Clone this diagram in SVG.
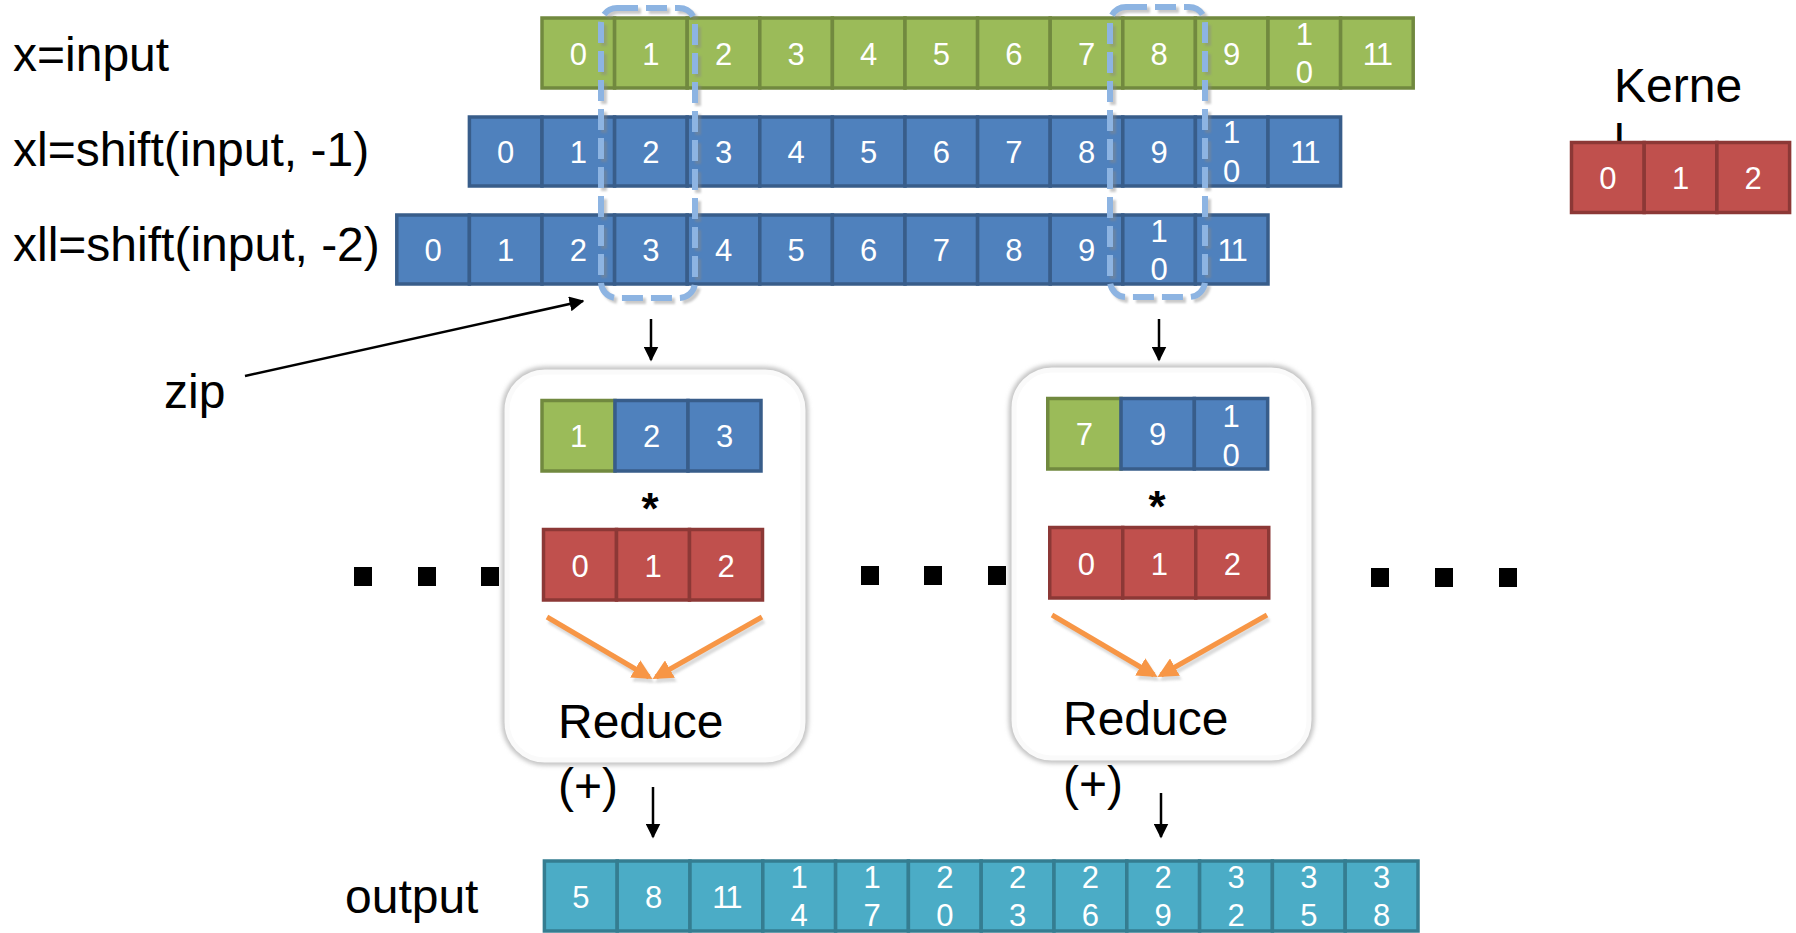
<svg xmlns="http://www.w3.org/2000/svg" width="1796" height="933" viewBox="0 0 1796 933">
<defs>
<style>
.lbl{font-family:"Liberation Sans",Arial,sans-serif;font-size:48px;fill:#000}
.d{font-family:"Liberation Sans",Arial,sans-serif;font-size:31px;fill:#fff;text-anchor:middle}
.g{fill:#9BBB59;stroke:#71893F;stroke-width:3.5}
.b{fill:#4F81BD;stroke:#385D8A;stroke-width:3.5}
.r{fill:#C0504D;stroke:#8C3836;stroke-width:3.5}
.c{fill:#4BACC6;stroke:#357D91;stroke-width:3.5}
.dash{fill:none;stroke:#8DB4E2;stroke-width:6;stroke-dasharray:21 8}
.dashsh{fill:none;stroke:#888;stroke-width:6;stroke-dasharray:21 8;opacity:.45}
.blk{stroke:#000;stroke-width:2.5;fill:none}
.org{stroke:#F79646;stroke-width:5;fill:none}
.orgsh{stroke:#999;stroke-width:5;fill:none;opacity:.35}
.dot{fill:#000}
.ast{font-family:"Liberation Sans",Arial,sans-serif;font-size:44px;font-weight:bold;text-anchor:middle;fill:#000}
</style>
<filter id="blur" x="-10%" y="-10%" width="120%" height="120%"><feGaussianBlur stdDeviation="2"/></filter>
<filter id="blur1" x="-10%" y="-10%" width="120%" height="120%"><feGaussianBlur stdDeviation="1.2"/></filter>
<marker id="ab" viewBox="0 0 10 10" refX="9" refY="5" markerWidth="6" markerHeight="6" orient="auto" markerUnits="strokeWidth"><path d="M0,0 L10,5 L0,10 z" fill="#000"/></marker>
<marker id="ao" viewBox="0 0 10 10" refX="8" refY="5" markerWidth="4" markerHeight="4" orient="auto" markerUnits="strokeWidth"><path d="M0,0 L10,5 L0,10 z" fill="#F79646"/></marker>
<marker id="as" viewBox="0 0 10 10" refX="8" refY="5" markerWidth="4" markerHeight="4" orient="auto" markerUnits="strokeWidth"><path d="M0,0 L10,5 L0,10 z" fill="#999"/></marker>
</defs>
<rect width="1796" height="933" fill="#fff"/>

<g id="labels">
<text class="lbl" x="13" y="71">x=input</text>
<text class="lbl" x="13" y="166">xl=shift(input, -1)</text>
<text class="lbl" x="13" y="261">xll=shift(input, -2)</text>
<text class="lbl" x="164" y="408">zip</text>
<text class="lbl" x="345" y="913">output</text>
</g>

<g id="row-x">
<rect class="g" x="542" y="18" width="72.6" height="70"/>
<rect class="g" x="614.6" y="18" width="72.6" height="70"/>
<rect class="g" x="687.2" y="18" width="72.6" height="70"/>
<rect class="g" x="759.8" y="18" width="72.6" height="70"/>
<rect class="g" x="832.4" y="18" width="72.6" height="70"/>
<rect class="g" x="905" y="18" width="72.6" height="70"/>
<rect class="g" x="977.6" y="18" width="72.6" height="70"/>
<rect class="g" x="1050.2" y="18" width="72.6" height="70"/>
<rect class="g" x="1122.8" y="18" width="72.6" height="70"/>
<rect class="g" x="1195.4" y="18" width="72.6" height="70"/>
<rect class="g" x="1268" y="18" width="72.6" height="70"/>
<rect class="g" x="1340.6" y="18" width="72.6" height="70"/>
<text class="d" x="578.3" y="65">0</text>
<text class="d" x="650.9" y="65">1</text>
<text class="d" x="723.5" y="65">2</text>
<text class="d" x="796.1" y="65">3</text>
<text class="d" x="868.7" y="65">4</text>
<text class="d" x="941.3" y="65">5</text>
<text class="d" x="1013.9" y="65">6</text>
<text class="d" x="1086.5" y="65">7</text>
<text class="d" x="1159.1" y="65">8</text>
<text class="d" x="1231.7" y="65">9</text>
<text class="d" x="1304.3" y="45">1</text>
<text class="d" x="1304.3" y="83">0</text>
<text class="d" x="1376.9" y="65" letter-spacing="-2">11</text>
</g>

<g id="row-xl">
<rect class="b" x="469.4" y="117" width="72.6" height="69"/>
<rect class="b" x="542" y="117" width="72.6" height="69"/>
<rect class="b" x="614.6" y="117" width="72.6" height="69"/>
<rect class="b" x="687.2" y="117" width="72.6" height="69"/>
<rect class="b" x="759.8" y="117" width="72.6" height="69"/>
<rect class="b" x="832.4" y="117" width="72.6" height="69"/>
<rect class="b" x="905" y="117" width="72.6" height="69"/>
<rect class="b" x="977.6" y="117" width="72.6" height="69"/>
<rect class="b" x="1050.2" y="117" width="72.6" height="69"/>
<rect class="b" x="1122.8" y="117" width="72.6" height="69"/>
<rect class="b" x="1195.4" y="117" width="72.6" height="69"/>
<rect class="b" x="1268" y="117" width="72.6" height="69"/>
<text class="d" x="505.7" y="163">0</text>
<text class="d" x="578.3" y="163">1</text>
<text class="d" x="650.9" y="163">2</text>
<text class="d" x="723.5" y="163">3</text>
<text class="d" x="796.1" y="163">4</text>
<text class="d" x="868.7" y="163">5</text>
<text class="d" x="941.3" y="163">6</text>
<text class="d" x="1013.9" y="163">7</text>
<text class="d" x="1086.5" y="163">8</text>
<text class="d" x="1159.1" y="163">9</text>
<text class="d" x="1231.7" y="143">1</text>
<text class="d" x="1231.7" y="182">0</text>
<text class="d" x="1304.3" y="163" letter-spacing="-2">11</text>
</g>

<g id="row-xll">
<rect class="b" x="396.8" y="215" width="72.6" height="69"/>
<rect class="b" x="469.4" y="215" width="72.6" height="69"/>
<rect class="b" x="542" y="215" width="72.6" height="69"/>
<rect class="b" x="614.6" y="215" width="72.6" height="69"/>
<rect class="b" x="687.2" y="215" width="72.6" height="69"/>
<rect class="b" x="759.8" y="215" width="72.6" height="69"/>
<rect class="b" x="832.4" y="215" width="72.6" height="69"/>
<rect class="b" x="905" y="215" width="72.6" height="69"/>
<rect class="b" x="977.6" y="215" width="72.6" height="69"/>
<rect class="b" x="1050.2" y="215" width="72.6" height="69"/>
<rect class="b" x="1122.8" y="215" width="72.6" height="69"/>
<rect class="b" x="1195.4" y="215" width="72.6" height="69"/>
<text class="d" x="433.1" y="261">0</text>
<text class="d" x="505.7" y="261">1</text>
<text class="d" x="578.3" y="261">2</text>
<text class="d" x="650.9" y="261">3</text>
<text class="d" x="723.5" y="261">4</text>
<text class="d" x="796.1" y="261">5</text>
<text class="d" x="868.7" y="261">6</text>
<text class="d" x="941.3" y="261">7</text>
<text class="d" x="1013.9" y="261">8</text>
<text class="d" x="1086.5" y="261">9</text>
<text class="d" x="1159.1" y="242">1</text>
<text class="d" x="1159.1" y="280">0</text>
<text class="d" x="1231.7" y="261" letter-spacing="-2">11</text>
</g>

<g id="kernel">
<text class="lbl" x="1614" y="102">Kerne</text>
<text class="lbl" x="1614" y="158">l</text>
<rect class="r" x="1571.5" y="142.5" width="72.7" height="70"/>
<rect class="r" x="1644.2" y="142.5" width="72.7" height="70"/>
<rect class="r" x="1716.9" y="142.5" width="72.7" height="70"/>
<text class="d" x="1607.9" y="189">0</text>
<text class="d" x="1680.6" y="189">1</text>
<text class="d" x="1753.2" y="189">2</text>
</g>

<g id="window1">
<rect class="dashsh" x="604" y="11" width="94" height="290" rx="16" filter="url(#blur1)"/>
<rect class="dash" x="601" y="8" width="94" height="290" rx="16"/>
</g>
<g id="window2">
<rect class="dashsh" x="1113" y="10" width="95" height="290" rx="16" filter="url(#blur1)"/>
<rect class="dash" x="1110" y="7" width="95" height="290" rx="16"/>
</g>

<g id="box1">
<rect x="507" y="372" width="296" height="388" rx="38" fill="none" stroke="#c4c4c4" stroke-width="11" filter="url(#blur)"/>
<rect x="507" y="372" width="296" height="388" rx="38" fill="#fff" stroke="#fafafa" stroke-width="5"/>
<rect class="g" x="542" y="400.5" width="73" height="70.5"/>
<rect class="b" x="615" y="400.5" width="73" height="70.5"/>
<rect class="b" x="688" y="400.5" width="73" height="70.5"/>
<text class="d" x="578.5" y="447">1</text>
<text class="d" x="651.5" y="447">2</text>
<text class="d" x="724.5" y="447">3</text>
<text class="ast" x="650" y="524">*</text>
<rect class="r" x="543.5" y="529.5" width="73" height="70.5"/>
<rect class="r" x="616.5" y="529.5" width="73" height="70.5"/>
<rect class="r" x="689.5" y="529.5" width="73" height="70.5"/>
<text class="d" x="580" y="577">0</text>
<text class="d" x="653" y="577">1</text>
<text class="d" x="726" y="577">2</text>
<g filter="url(#blur1)">
<path class="orgsh" d="M549,621 L651,681" marker-end="url(#as)"/>
<path class="orgsh" d="M764,621 L658,681" marker-end="url(#as)"/>
</g>
<path class="org" d="M547,617 L649,677" marker-end="url(#ao)"/>
<path class="org" d="M762,617 L656,677" marker-end="url(#ao)"/>
<text class="lbl" x="558" y="738">Reduce</text>
<text class="lbl" x="558" y="802">(+)</text>
</g>

<g id="box2">
<rect x="1014" y="370" width="295" height="388" rx="38" fill="none" stroke="#c4c4c4" stroke-width="11" filter="url(#blur)"/>
<rect x="1014" y="370" width="295" height="388" rx="38" fill="#fff" stroke="#fafafa" stroke-width="5"/>
<rect class="g" x="1047.75" y="398.5" width="73.3" height="70.5"/>
<rect class="b" x="1121.05" y="398.5" width="73.3" height="70.5"/>
<rect class="b" x="1194.35" y="398.5" width="73.3" height="70.5"/>
<text class="d" x="1084.4" y="445">7</text>
<text class="d" x="1157.7" y="445">9</text>
<text class="d" x="1231" y="427">1</text>
<text class="d" x="1231" y="466">0</text>
<text class="ast" x="1157" y="522">*</text>
<rect class="r" x="1049.75" y="527.5" width="73" height="70.5"/>
<rect class="r" x="1122.75" y="527.5" width="73" height="70.5"/>
<rect class="r" x="1195.75" y="527.5" width="73" height="70.5"/>
<text class="d" x="1086.25" y="575">0</text>
<text class="d" x="1159.25" y="575">1</text>
<text class="d" x="1232.25" y="575">2</text>
<g filter="url(#blur1)">
<path class="orgsh" d="M1054,619 L1156,679" marker-end="url(#as)"/>
<path class="orgsh" d="M1269,619 L1163,679" marker-end="url(#as)"/>
</g>
<path class="org" d="M1052,615 L1154,675" marker-end="url(#ao)"/>
<path class="org" d="M1267,615 L1161,675" marker-end="url(#ao)"/>
<text class="lbl" x="1063" y="735">Reduce</text>
<text class="lbl" x="1063" y="800">(+)</text>
</g>

<g id="ellipsis">
<rect class="dot" x="354" y="567" width="18" height="19"/>
<rect class="dot" x="418" y="567" width="18" height="19"/>
<rect class="dot" x="481" y="567" width="18" height="19"/>
<rect class="dot" x="861" y="566" width="18" height="19"/>
<rect class="dot" x="924" y="566" width="18" height="19"/>
<rect class="dot" x="988" y="566" width="18" height="19"/>
<rect class="dot" x="1371" y="568" width="18" height="19"/>
<rect class="dot" x="1435" y="568" width="18" height="19"/>
<rect class="dot" x="1499" y="568" width="18" height="19"/>
</g>

<g id="output">
<rect class="c" x="544.4" y="861" width="72.8" height="70"/>
<rect class="c" x="617.2" y="861" width="72.8" height="70"/>
<rect class="c" x="690" y="861" width="72.8" height="70"/>
<rect class="c" x="762.8" y="861" width="72.8" height="70"/>
<rect class="c" x="835.6" y="861" width="72.8" height="70"/>
<rect class="c" x="908.4" y="861" width="72.8" height="70"/>
<rect class="c" x="981.2" y="861" width="72.8" height="70"/>
<rect class="c" x="1054" y="861" width="72.8" height="70"/>
<rect class="c" x="1126.8" y="861" width="72.8" height="70"/>
<rect class="c" x="1199.6" y="861" width="72.8" height="70"/>
<rect class="c" x="1272.4" y="861" width="72.8" height="70"/>
<rect class="c" x="1345.2" y="861" width="72.8" height="70"/>
<text class="d" x="580.8" y="908">5</text>
<text class="d" x="653.6" y="908">8</text>
<text class="d" x="726.4" y="908" letter-spacing="-2">11</text>
<text class="d" x="799.2" y="888">1</text><text class="d" x="799.2" y="926">4</text>
<text class="d" x="872" y="888">1</text><text class="d" x="872" y="926">7</text>
<text class="d" x="944.8" y="888">2</text><text class="d" x="944.8" y="926">0</text>
<text class="d" x="1017.6" y="888">2</text><text class="d" x="1017.6" y="926">3</text>
<text class="d" x="1090.4" y="888">2</text><text class="d" x="1090.4" y="926">6</text>
<text class="d" x="1163.2" y="888">2</text><text class="d" x="1163.2" y="926">9</text>
<text class="d" x="1236" y="888">3</text><text class="d" x="1236" y="926">2</text>
<text class="d" x="1308.8" y="888">3</text><text class="d" x="1308.8" y="926">5</text>
<text class="d" x="1381.6" y="888">3</text><text class="d" x="1381.6" y="926">8</text>
</g>

<g id="connectors">
<path class="blk" d="M245,376 L583,301" marker-end="url(#ab)"/>
<path class="blk" d="M651,319 L651,360" marker-end="url(#ab)"/>
<path class="blk" d="M1159,319 L1159,360" marker-end="url(#ab)"/>
<path class="blk" d="M653,787 L653,837" marker-end="url(#ab)"/>
<path class="blk" d="M1161,793 L1161,837" marker-end="url(#ab)"/>
</g>
</svg>
